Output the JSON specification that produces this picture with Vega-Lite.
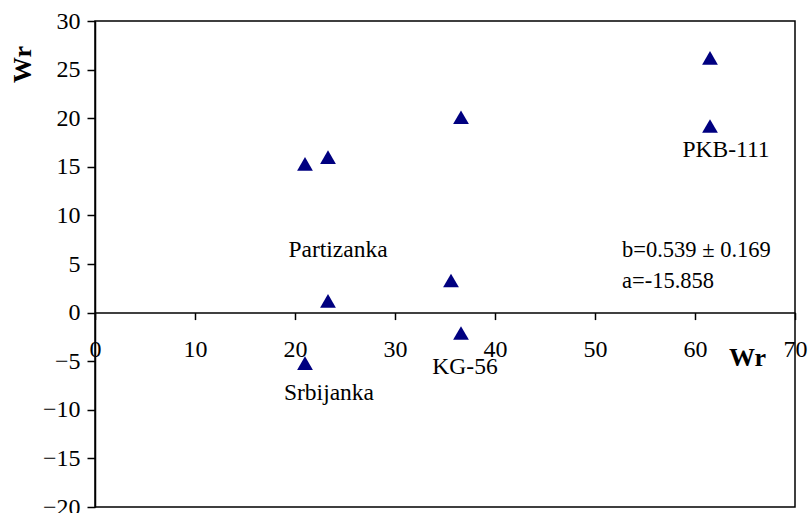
{
  "$schema": "https://vega.github.io/schema/vega-lite/v6.json",
  "autosize": {"type": "none"},
  "width": 700,
  "height": 486,
  "padding": {"left": 95, "top": 21, "right": 14, "bottom": 6},
  "background": "white",
  "config": {
    "view": {"stroke": "black", "strokeWidth": 1.5},
    "font": "Times New Roman, Liberation Serif, DejaVu Serif, serif",
    "axis": {"grid": false, "domainColor": "black", "tickColor": "black", "labelColor": "black", "titleColor": "black", "labelFont": "Times New Roman, Liberation Serif, DejaVu Serif, serif", "titleFont": "Times New Roman, Liberation Serif, DejaVu Serif, serif", "labelFontSize": 24, "titleFontSize": 26, "domainWidth": 1.5, "tickWidth": 1.5, "labelFontWeight": "normal"}
  },
  "datasets": {
    "pts": [
      {"x": 61.5, "y": 26.2},
      {"x": 61.5, "y": 19.2},
      {"x": 36.6, "y": 20.1},
      {"x": 21.0, "y": 15.3},
      {"x": 23.3, "y": 16.0},
      {"x": 23.3, "y": 1.2},
      {"x": 35.6, "y": 3.3},
      {"x": 36.6, "y": -2.1},
      {"x": 21.0, "y": -5.2}
    ],
    "labels": [
      {"label": "Partizanka", "x": 24.3, "y": 6.4},
      {"label": "Srbijanka", "x": 23.4, "y": -8.3},
      {"label": "KG-56", "x": 37.0, "y": -5.6},
      {"label": "PKB-111", "x": 63.1, "y": 16.7}
    ],
    "eq": [
      {"label": "b=0.539 ± 0.169", "x": 52.7, "y": 6.4},
      {"label": "a=-15.858", "x": 52.7, "y": 3.2}
    ]
  },
  "layer": [
    {
      "data": {"name": "pts"},
      "mark": {"type": "point", "shape": "triangle-up", "filled": true, "color": "#000080", "opacity": 1, "size": 250},
      "encoding": {
        "x": {"field": "x", "type": "quantitative", "scale": {"domain": [0, 70], "nice": false, "zero": false},
          "axis": {"values": [0, 10, 20, 30, 40, 50, 60, 70], "offset": -194.4, "tickSize": 7, "labelPadding": 18, "labelOverlap": false, "labelFlush": false, "title": "Wr", "titleFontWeight": "bold", "titleX": 652, "titleY": 45, "titleBaseline": "middle", "titleAlign": "center"}},
        "y": {"field": "y", "type": "quantitative", "scale": {"domain": [-20, 30], "nice": false, "zero": false},
          "axis": {"values": [-20, -15, -10, -5, 0, 5, 10, 15, 20, 25, 30], "tickSize": 8, "labelPadding": 7, "labelOverlap": false, "labelFlush": false, "title": "Wr", "titleFontWeight": "bold", "titleX": -73, "titleY": 43, "titleAngle": -90, "titleBaseline": "middle", "titleAlign": "center"}}
      }
    },
    {
      "data": {"name": "labels"},
      "mark": {"type": "text", "fontSize": 23.5, "color": "black", "align": "center", "baseline": "middle"},
      "encoding": {
        "x": {"field": "x", "type": "quantitative"},
        "y": {"field": "y", "type": "quantitative"},
        "text": {"field": "label"}
      }
    },
    {
      "data": {"name": "eq"},
      "mark": {"type": "text", "fontSize": 22.5, "color": "black", "align": "left", "baseline": "middle"},
      "encoding": {
        "x": {"field": "x", "type": "quantitative"},
        "y": {"field": "y", "type": "quantitative"},
        "text": {"field": "label"}
      }
    }
  ]
}
